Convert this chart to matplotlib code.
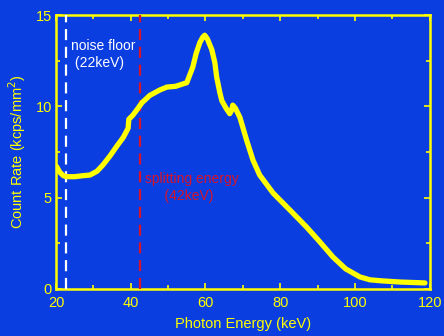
import numpy as np
import matplotlib
matplotlib.use('Agg')
import matplotlib.pyplot as plt
from matplotlib.ticker import MultipleLocator

plt.rcParams['font.family'] = ['Liberation Sans', 'DejaVu Sans']

bg = '#0a3ee0'
fg = '#ffff00'
red = '#d8142a'

# spectrum
energy = [20.2, 21.0, 22.0, 22.9, 25.0, 27.0, 29.1, 31.0, 32.6, 34.5, 36.2, 38.0,
          39.3, 39.5, 40.5, 41.6, 43.0, 45.1, 47.8, 49.7, 52.0, 55.0, 56.6,
          57.5, 58.5, 59.3, 59.8, 60.5, 61.7, 62.5, 63.0, 63.9, 64.4, 65.5,
          66.5, 67.0, 67.3, 68.0, 69.2, 71.0, 72.7, 74.5, 78.1, 82.6, 87.0,
          90.5, 94.1, 97.5, 101.3, 104.0, 107.4, 112.0, 118.7]
count = [6.7, 6.4, 6.2, 6.15, 6.15, 6.2, 6.24, 6.45, 6.8, 7.3, 7.8, 8.3,
         8.8, 9.3, 9.5, 9.8, 10.2, 10.6, 10.9, 11.06, 11.1, 11.3, 12.15,
         12.9, 13.5, 13.8, 13.9, 13.7, 13.1, 12.4, 11.6, 10.7, 10.3, 9.9,
         9.6, 9.8, 10.07, 9.9, 9.4, 8.15, 7.06, 6.24, 5.25, 4.32, 3.4,
         2.6, 1.75, 1.1, 0.66, 0.5, 0.44, 0.38, 0.33]

noise_floor = 22.7
split_energy = 42.5

fig = plt.figure(figsize=(4.44, 3.36), dpi=100, facecolor=bg)
ax = fig.add_axes([0.126, 0.140, 0.842, 0.815], facecolor=bg)

ax.plot(energy, count, color=fg, lw=3.8, solid_capstyle='round',
        solid_joinstyle='round', zorder=5)
ax.axvline(noise_floor, color='white', lw=1.6, ls=(0, (5, 3)), zorder=3)
ax.axvline(split_energy, color=red, lw=1.6, ls=(0, (5, 3)), zorder=3)

ax.text(24.0, 12.85, 'noise floor\n (22keV)', color='white', fontsize=10,
        ha='left', va='center', linespacing=1.25)
ax.text(43.8, 5.55, 'splitting energy\n     (42keV)', color=red, fontsize=10,
        ha='left', va='center', linespacing=1.25)

ax.set_xlim(20, 120)
ax.set_ylim(0, 15)
ax.xaxis.set_major_locator(MultipleLocator(20))
ax.xaxis.set_minor_locator(MultipleLocator(10))
ax.yaxis.set_major_locator(MultipleLocator(5))
ax.yaxis.set_minor_locator(MultipleLocator(2.5))
ax.tick_params(which='both', direction='in', top=True, right=True,
               colors=fg, labelcolor=fg, labelsize=10.5, width=1.2)
ax.tick_params(which='major', length=4, pad=3)
ax.tick_params(axis='x', which='major', pad=5)
ax.tick_params(which='minor', length=3)
for s in ax.spines.values():
    s.set_color(fg)
    s.set_linewidth(1.8)

ax.set_xlabel('Photon Energy (keV)', color=fg, fontsize=10.5, labelpad=5)
ax.set_ylabel('Count Rate (kcps/mm$^2$)', color=fg, fontsize=10.5, labelpad=5)

fig.savefig('out.png', dpi=100, facecolor=bg)
